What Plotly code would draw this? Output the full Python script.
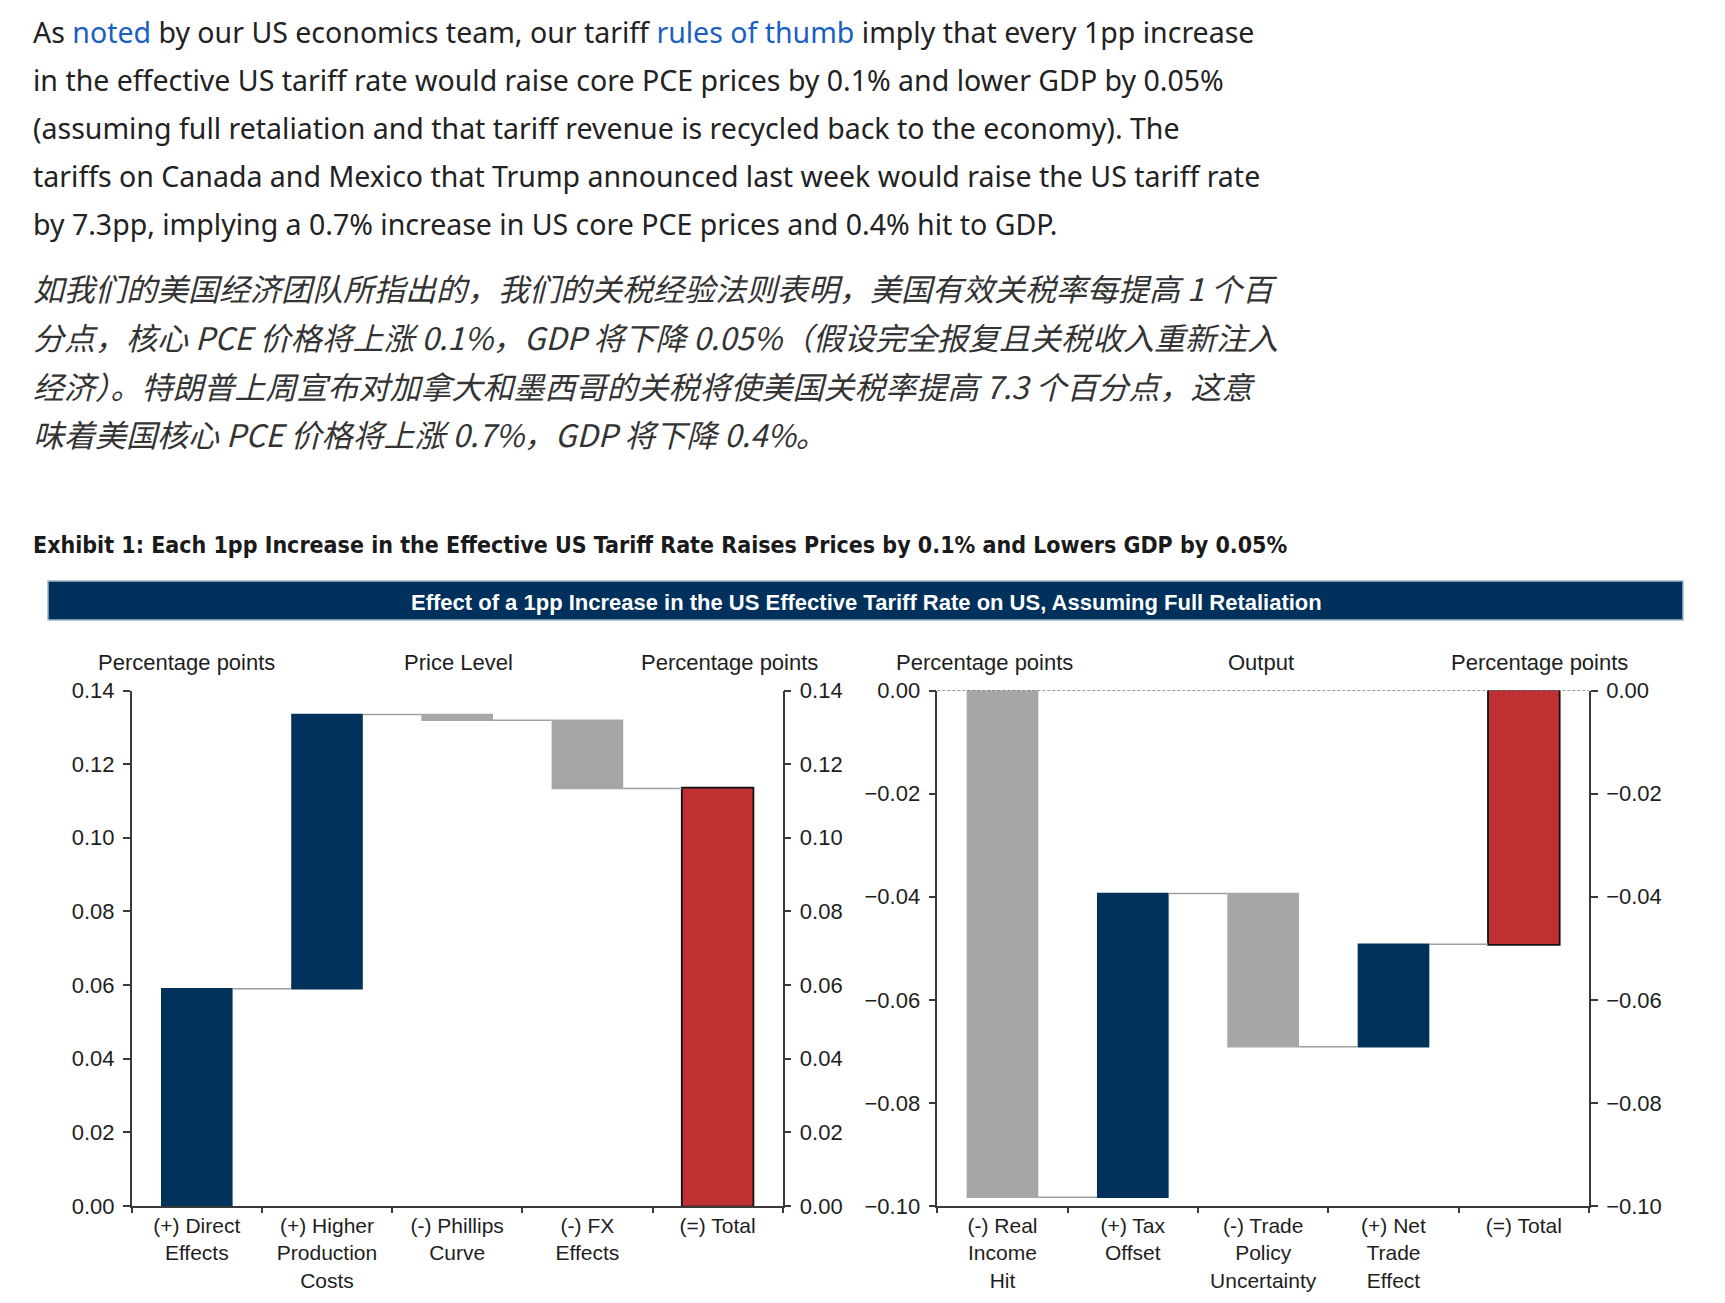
import plotly.graph_objects as go

W, H = 1725, 1303

# ---------------- data ----------------
price_labels = ["(+) Direct<br>Effects", "(+) Higher<br>Production<br>Costs",
                "(-) Phillips<br>Curve", "(-) FX<br>Effects", "(=) Total"]
price_values = [0.059, 0.0745, -0.0016, -0.0185]
price_measures = ["relative", "relative", "relative", "relative", "total"]

output_labels = ["(-) Real<br>Income<br>Hit", "(+) Tax<br>Offset",
                 "(-) Trade<br>Policy<br>Uncertainty", "(+) Net<br>Trade<br>Effect", "(=) Total"]
output_values = [-0.0983, 0.0589, -0.0297, 0.0199]
output_measures = ["relative", "relative", "relative", "relative", "total"]

price_ticks = [0.00, 0.02, 0.04, 0.06, 0.08, 0.10, 0.12, 0.14]
output_ticks = [0.00, -0.02, -0.04, -0.06, -0.08, -0.10]

para_en = [
    'As <span style="color:#1a5fc0">noted</span> by our US economics team, our tariff '
    '<span style="color:#1a5fc0">rules of thumb</span> imply that every 1pp increase',
    "in the effective US tariff rate would raise core PCE prices by 0.1% and lower GDP by 0.05%",
    "(assuming full retaliation and that tariff revenue is recycled back to the economy). The",
    "tariffs on Canada and Mexico that Trump announced last week would raise the US tariff rate",
    "by 7.3pp, implying a 0.7% increase in US core PCE prices and 0.4% hit to GDP.",
]
para_cn = [
    "如我们的美国经济团队所指出的，我们的关税经验法则表明，美国有效关税率每提高 1 个百",
    "分点，核心 PCE 价格将上涨 0.1%，GDP 将下降 0.05%（假设完全报复且关税收入重新注入",
    "经济）。特朗普上周宣布对加拿大和墨西哥的关税将使美国关税率提高 7.3 个百分点，这意",
    "味着美国核心 PCE 价格将上涨 0.7%，GDP 将下降 0.4%。",
]
exhibit_title = ("Exhibit 1: Each 1pp Increase in the Effective US Tariff Rate Raises Prices "
                 "by 0.1% and Lowers GDP by 0.05%")
banner_title = "Effect of a 1pp Increase in the US Effective Tariff Rate on US, Assuming Full Retaliation"

# ---------------- style ----------------
NAVY = "#00325b"
GRAY = "#a6a6a6"
RED = "#be3032"
AX = "#3a3a3a"
TXT = "#1e1e1e"
CHART_FONT = "Liberation Sans, Arial, sans-serif"


def px(x, y):
    return x / W, 1 - y / H


x1a, x1b = 131.7 / W, 782.7 / W
x2a, x2b = 937.3 / W, 1589.0 / W
ytop, ybot = 1 - 690.5 / H, 1 - 1206.0 / H

fig = go.Figure()

fig.add_trace(go.Waterfall(
    x=price_labels, y=price_values + [0], measure=price_measures,
    xaxis="x", yaxis="y",
    increasing=dict(marker=dict(color=NAVY, line=dict(width=0))),
    decreasing=dict(marker=dict(color=GRAY, line=dict(width=0))),
    totals=dict(marker=dict(color=RED, line=dict(color="#111111", width=1.8))),
    connector=dict(line=dict(color="#a0a0a0", width=1.5)),
    textinfo="none", hoverinfo="skip", showlegend=False,
))
fig.add_trace(go.Waterfall(
    x=output_labels, y=output_values + [0], measure=output_measures,
    xaxis="x2", yaxis="y2",
    increasing=dict(marker=dict(color=NAVY, line=dict(width=0))),
    decreasing=dict(marker=dict(color=GRAY, line=dict(width=0))),
    totals=dict(marker=dict(color=RED, line=dict(color="#111111", width=1.8))),
    connector=dict(line=dict(color="#a0a0a0", width=1.5)),
    textinfo="none", hoverinfo="skip", showlegend=False,
))
# invisible traces so the mirrored right-hand axes are drawn
fig.add_trace(go.Scatter(x=price_labels, y=[None] * 5, xaxis="x", yaxis="y3",
                         mode="lines", hoverinfo="skip", showlegend=False))
fig.add_trace(go.Scatter(x=output_labels, y=[None] * 5, xaxis="x2", yaxis="y4",
                         mode="lines", hoverinfo="skip", showlegend=False))

yax_common = dict(showgrid=False, zeroline=False, showline=True, linecolor=AX, linewidth=1.5,
                  ticks="outside", ticklen=7, tickwidth=1.5, tickcolor=AX, automargin=False,
                  ticklabelstandoff=4,
                  tickformat=".2f", tickfont=dict(family=CHART_FONT, size=22, color=TXT),
                  fixedrange=True)
xax_common = dict(showgrid=False, zeroline=False, showline=True, linecolor=AX, linewidth=1.5,
                  ticks="outside", ticklen=5, tickwidth=1.5, tickcolor=AX, tickson="boundaries",
                  automargin=False,
                  tickfont=dict(family=CHART_FONT, size=21, color=TXT), fixedrange=True)

fig.update_layout(
    width=W, height=H, autosize=False,
    margin=dict(l=0, r=0, t=0, b=0, pad=0),
    paper_bgcolor="white", plot_bgcolor="white",
    waterfallgap=0.45,
    xaxis=dict(domain=[x1a, x1b], anchor="y", **xax_common),
    xaxis2=dict(domain=[x2a, x2b], anchor="y2", **xax_common),
    yaxis=dict(domain=[ybot, ytop], anchor="x", range=[0, 0.14], tickvals=price_ticks, **yax_common),
    yaxis3=dict(overlaying="y", side="right", anchor="x", range=[0, 0.14], tickvals=price_ticks,
                **yax_common),
    yaxis2=dict(domain=[ybot, ytop], anchor="x2", range=[-0.10, 0], tickvals=output_ticks,
                **yax_common),
    yaxis4=dict(overlaying="y2", side="right", anchor="x2", range=[-0.10, 0], tickvals=output_ticks,
                **yax_common),
)

# dashed zero line on the output chart
fig.add_shape(type="line", xref="x2 domain", yref="y2", x0=0, x1=1, y0=0, y1=0,
              line=dict(color="#333333", width=1, dash="3px,2px"), layer="above")

# banner
bx0, by0 = px(48, 581)
bx1, by1 = px(1683, 620)
fig.add_shape(type="rect", xref="paper", yref="paper", x0=bx0, x1=bx1, y0=by1, y1=by0,
              fillcolor="#00315c", line=dict(color="#9fb5c8", width=1.5), layer="below")

ann = []


def add_text(x, y, text, size, color=TXT, family=CHART_FONT, xanchor="left"):
    ax, ay = px(x, y)
    ann.append(dict(x=ax, y=ay, xref="paper", yref="paper", text=text, showarrow=False,
                    xanchor=xanchor, yanchor="middle", align="left",
                    font=dict(family=family, size=size, color=color)))


en_y = [32, 80, 128, 176, 224]
for t, y in zip(para_en, en_y):
    add_text(31, y, t, 28.5, color="#222222", family="Noto Sans, Open Sans, sans-serif")

cn_y = [287, 336, 385, 433]
for t, y in zip(para_cn, cn_y):
    add_text(31, y, "<i>" + t + "</i>", 31, color="#333333",
             family="Noto Sans CJK SC, sans-serif")

add_text(31, 545, "<b>" + exhibit_title + "</b>", 23, color="#1a1a1a",
         family="DejaVu Sans Condensed, Liberation Sans, sans-serif")
add_text(866, 602, "<b>" + banner_title + "</b>", 22, color="white", xanchor="center",
         family="Liberation Sans, Arial, sans-serif")

for x, t in [(186, "Percentage points"), (458, "Price Level"), (729, "Percentage points"),
             (985, "Percentage points"), (1261, "Output"), (1539, "Percentage points")]:
    add_text(x, 662, t, 22, xanchor="center")

fig.update_layout(annotations=ann)

fig.write_html("out.html")
